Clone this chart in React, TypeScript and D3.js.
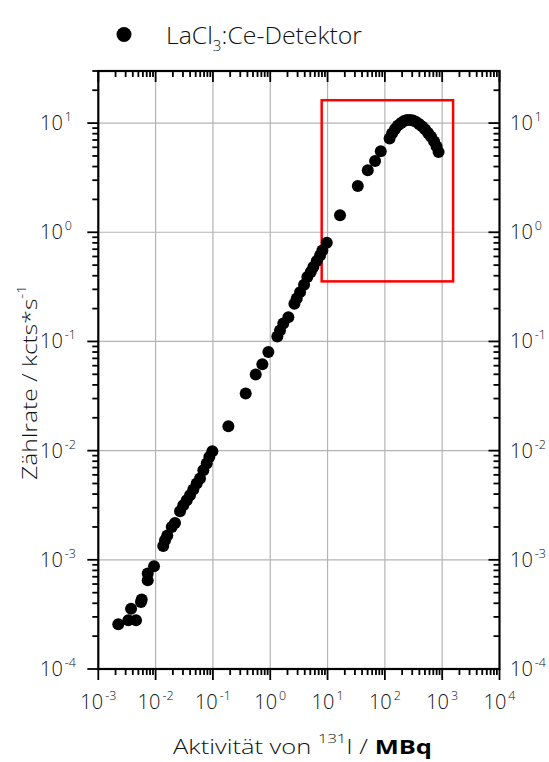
import React from "react";
import * as d3 from "d3";

// ---- data ----
const activityMBq: number[] = [
  0.00223, 0.00334, 0.00455, 0.00373, 0.00556, 0.00572, 0.00728, 0.00728, 0.00938,
  0.0136, 0.0146, 0.016, 0.0191, 0.0218, 0.0267, 0.0304, 0.0349, 0.0398, 0.0455,
  0.0521, 0.0595, 0.068, 0.0779, 0.0865, 0.0977, 0.186, 0.373, 0.558, 0.728, 0.927,
  1.33, 1.48, 1.69, 2.07, 2.64, 2.9, 3.31, 3.89, 4.44, 5.09, 5.65, 6.48, 7.4, 8.11,
  9.68, 16.5, 33.7, 50.3, 67.5, 84.8,
  120.8, 133.6, 150.7, 169.8, 191.9, 216.3, 243.8, 275.4, 310.5, 350.8, 395.4,
  445.7, 503.5, 567.5, 639.8, 722.8, 798.3, 865.0,
];
const countRate: number[] = [
  2.57e-4, 2.79e-4, 2.79e-4, 3.57e-4, 4.11e-4, 4.34e-4, 6.49e-4, 7.48e-4, 8.71e-4,
  1.34e-3, 1.51e-3, 1.67e-3, 2.0e-3, 2.17e-3, 2.78e-3, 3.16e-3, 3.51e-3, 3.9e-3, 4.4e-3,
  4.99e-3, 5.55e-3, 6.61e-3, 7.61e-3, 8.74e-3, 9.86e-3, 0.0167, 0.0333, 0.0497, 0.0617, 0.08,
  0.111, 0.126, 0.146, 0.167, 0.222, 0.247, 0.283, 0.331, 0.389, 0.432, 0.48, 0.545, 0.614, 0.682,
  0.8, 1.43, 2.65, 3.69, 4.49, 5.51,
  7.24, 8.05, 8.85, 9.53, 10.04, 10.47, 10.69, 10.69, 10.58, 10.26, 9.83,
  9.33, 8.76, 8.13, 7.48, 6.8, 6.12, 5.44,
];
const xDecades: number[] = [-3, -2, -1, 0, 1, 2, 3, 4];
const yDecades: number[] = [-4, -3, -2, -1, 0, 1];
const xDomain: [number, number] = [1e-3, 1e4];
const yDomain: [number, number] = [1e-4, 30];
// highlighted region (data coordinates)
const highlightX: [number, number] = [7.9, 1550];
const highlightY: [number, number] = [0.355, 16.2];

const legendLabel = "LaCl";
const legendSub = "3";
const legendRest = ":Ce-Detektor";

const W = 549;
const H = 762;
const left = 98.3;
const right = 499.5;
const top = 71;
const bottom = 669;

const FONT = "'Open Sans', 'Noto Sans', 'DejaVu Sans', sans-serif";
const TXT = "#111";

export default function App() {
  const x = d3.scaleLog().domain(xDomain).range([left, right]);
  const y = d3.scaleLog().domain(yDomain).range([bottom, top]);

  const minorX: number[] = [];
  xDecades.slice(0, -1).forEach((d) => {
    for (let k = 2; k <= 9; k++) minorX.push(k * Math.pow(10, d));
  });
  const minorY: number[] = [];
  yDecades.forEach((d) => {
    for (let k = 2; k <= 9; k++) {
      const v = k * Math.pow(10, d);
      if (v <= yDomain[1] + 1e-9) minorY.push(v);
    }
  });

  const majLen = 11;
  const minLen = 6;
  const tickW = 1.8;
  const grid = "#b4b4b4";

  const points = activityMBq.map((a, i) => [a, countRate[i]] as [number, number]);

  const supLabel = (exp: number) => (
    <>
      <tspan>10</tspan>
      <tspan fontSize={12.5} dx={2} dy={-9}>{String(exp)}</tspan>
    </>
  );

  return (
    <svg
      width={W}
      height={H}
      style={{ position: "absolute", left: 0, top: 0, background: "#fff" }}
      fontFamily={FONT}
      fontWeight={300}
    >
      <rect x={0} y={0} width={W} height={H} fill="#fff" />
      {/* grid */}
      {xDecades.slice(1, -1).map((d) => (
        <line key={"gx" + d} x1={x(Math.pow(10, d))} x2={x(Math.pow(10, d))} y1={top} y2={bottom} stroke={grid} strokeWidth={1.2} />
      ))}
      {yDecades.slice(1).map((d) => (
        <line key={"gy" + d} x1={left} x2={right} y1={y(Math.pow(10, d))} y2={y(Math.pow(10, d))} stroke={grid} strokeWidth={1.2} />
      ))}

      {/* highlight rectangle */}
      <rect
        x={x(highlightX[0])}
        y={y(highlightY[1])}
        width={x(highlightX[1]) - x(highlightX[0])}
        height={y(highlightY[0]) - y(highlightY[1])}
        fill="none"
        stroke="#ff0000"
        strokeWidth={2.5}
      />

      {/* data */}
      {points.map(([a, c], i) => (
        <circle key={i} cx={x(a)} cy={y(c)} r={6} fill="#000" />
      ))}

      {/* ticks */}
      <g stroke="#000" strokeWidth={tickW}>
        {xDecades.map((d) => {
          const px = x(Math.pow(10, d));
          return (
            <g key={"xt" + d}>
              <line x1={px} x2={px} y1={bottom} y2={bottom + majLen} />
              <line x1={px} x2={px} y1={top} y2={top + majLen} />
            </g>
          );
        })}
        {minorX.map((v, i) => {
          const px = x(v);
          return (
            <g key={"xm" + i}>
              <line x1={px} x2={px} y1={bottom} y2={bottom + minLen} />
              <line x1={px} x2={px} y1={top} y2={top + minLen} />
            </g>
          );
        })}
        {yDecades.map((d) => {
          const py = y(Math.pow(10, d));
          return (
            <g key={"yt" + d}>
              <line x1={left - majLen} x2={left} y1={py} y2={py} />
              <line x1={right - majLen} x2={right} y1={py} y2={py} />
            </g>
          );
        })}
        {minorY.map((v, i) => {
          const py = y(v);
          return (
            <g key={"ym" + i}>
              <line x1={left - minLen} x2={left} y1={py} y2={py} />
              <line x1={right - minLen} x2={right} y1={py} y2={py} />
            </g>
          );
        })}
      </g>

      {/* frame */}
      <rect x={left} y={top} width={right - left} height={bottom - top} fill="none" stroke="#000" strokeWidth={2.2} />

      {/* x tick labels */}
      <g fontSize={20} fill={TXT} textAnchor="middle">
        {xDecades.map((d) => (
          <text key={"xl" + d} x={x(Math.pow(10, d))} y={709}>
            {supLabel(d)}
          </text>
        ))}
      </g>
      {/* left y tick labels */}
      <g fontSize={20} fill={TXT} textAnchor="start">
        {yDecades.map((d) => (
          <text key={"yl" + d} x={40} y={y(Math.pow(10, d)) + 7}>
            {supLabel(d)}
          </text>
        ))}
      </g>
      {/* right y tick labels */}
      <g fontSize={20} fill={TXT} textAnchor="start">
        {yDecades.map((d) => (
          <text key={"yr" + d} x={510} y={y(Math.pow(10, d)) + 7}>
            {supLabel(d)}
          </text>
        ))}
      </g>

      {/* axis titles */}
      <text x={173} y={754} fontSize={20} fill={TXT} textLength={259} lengthAdjust="spacingAndGlyphs">
        <tspan>Aktivität von </tspan>
        <tspan fontSize={13} dy={-11}>131</tspan>
        <tspan dy={11}>I / </tspan>
        <tspan fontWeight={700} fill="#000">MBq</tspan>
      </text>
      <text
        transform={`translate(37, 480) rotate(-90)`}
        fontSize={21}
        fill={TXT}
        textLength={195}
        lengthAdjust="spacingAndGlyphs"
      >
        <tspan>Zählrate / kcts*s</tspan>
        <tspan fontSize={13} dy={-11}>-1</tspan>
      </text>

      {/* legend */}
      <circle cx={124} cy={34.5} r={7.5} fill="#000" />
      <text x={166} y={44} fontSize={23} fill={TXT} textLength={196} lengthAdjust="spacingAndGlyphs">
        <tspan>{legendLabel}</tspan>
        <tspan fontSize={14} dy={7}>{legendSub}</tspan>
        <tspan dy={-7}>{legendRest}</tspan>
      </text>
    </svg>
  );
}
